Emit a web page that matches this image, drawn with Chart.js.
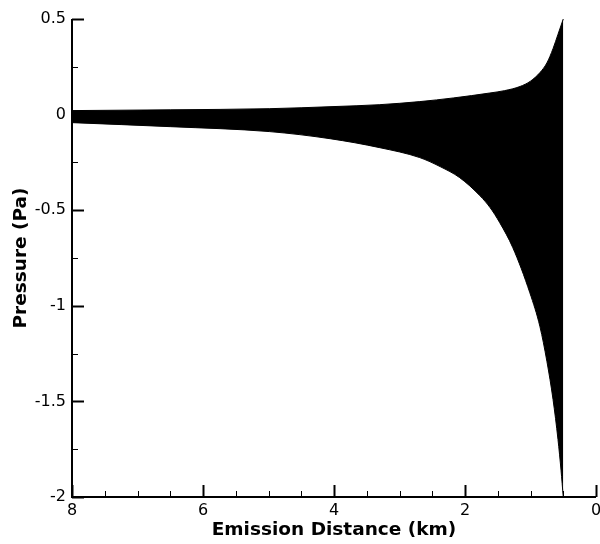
<!DOCTYPE html>
<html lang="en">
<head>
  <meta charset="UTF-8">
  <title>Pressure vs Emission Distance</title>
  <style>
    body {
      margin: 0;
      padding: 0;
      background-color: #fff;
    }
    #pressure-chart {
      display: block;
    }
  </style>
</head>
<body>
  <canvas id="pressure-chart" width="600" height="544"></canvas>

  <script src="https://cdn.jsdelivr.net/npm/chart.js"></script>
  <script>
    // Envelope of the pressure signal (Pa) against emission distance (km)
    const upperDistance = [8, 6.5, 4.98, 4, 3.3, 2.69, 2.18, 1.62, 1.4, 1.16, 1.0, 0.855, 0.75, 0.656, 0.58, 0.5];
    const upperPressure = [0.021, 0.025, 0.031, 0.042, 0.052, 0.068, 0.087, 0.113, 0.125, 0.147, 0.175, 0.22, 0.27, 0.345, 0.42, 0.5];

    const lowerDistance = [8, 6.5, 4.98, 4.06, 3.3, 2.69, 2.38, 2.08, 1.77, 1.62, 1.47, 1.27, 1.01, 0.855, 0.75, 0.656, 0.58, 0.534, 0.5];
    const lowerPressure = [-0.042, -0.063, -0.089, -0.126, -0.173, -0.225, -0.272, -0.33, -0.425, -0.485, -0.565, -0.696, -0.932, -1.11, -1.29, -1.49, -1.7, -1.86, -2];

    // Labelled (major) ticks; minor ticks fall in between
    const xTicks = [0, 2, 4, 6, 8];
    const yTicks = [-2, -1.5, -1, -0.5, 0, 0.5];

    const upperPoints = upperDistance.map((d, i) => ({ x: d, y: upperPressure[i] }));
    const lowerPoints = lowerDistance.map((d, i) => ({ x: d, y: lowerPressure[i] }));

    // Axis lines plus inward-pointing tick marks
    const innerTicks = {
      id: 'innerTicks',
      afterDatasetsDraw(chart) {
        const { ctx, chartArea: area, scales: { x, y } } = chart;
        ctx.save();
        ctx.strokeStyle = '#000';

        x.ticks.forEach(t => {
          const px = Math.round(x.getPixelForValue(t.value)) + 0.5;
          const major = xTicks.includes(t.value);
          ctx.lineWidth = major ? 2 : 1;
          ctx.beginPath();
          ctx.moveTo(px, area.bottom);
          ctx.lineTo(px, area.bottom - (major ? 12 : 6));
          ctx.stroke();
        });

        y.ticks.forEach(t => {
          const py = Math.round(y.getPixelForValue(t.value)) + 0.5;
          const major = yTicks.includes(t.value);
          ctx.lineWidth = major ? 2 : 1;
          ctx.beginPath();
          ctx.moveTo(area.left, py);
          ctx.lineTo(area.left + (major ? 12 : 6), py);
          ctx.stroke();
        });

        ctx.lineWidth = 2;
        ctx.beginPath();
        ctx.moveTo(area.left, area.top);
        ctx.lineTo(area.left, area.bottom);
        ctx.lineTo(area.right, area.bottom);
        ctx.stroke();
        ctx.restore();
      }
    };

    const ctx = document.getElementById('pressure-chart').getContext('2d');
    const chart = new Chart(ctx, {
      type: 'line',
      data: {
        datasets: [
          {
            label: 'Upper',
            data: upperPoints,
            borderColor: '#000',
            borderWidth: 1,
            pointRadius: 0,
            cubicInterpolationMode: 'monotone',
            fill: false
          },
          {
            label: 'Lower',
            data: lowerPoints,
            borderColor: '#000',
            backgroundColor: '#000',
            borderWidth: 1,
            pointRadius: 0,
            cubicInterpolationMode: 'monotone',
            fill: '-1'
          }
        ]
      },
      options: {
        responsive: false,
        animation: false,
        layout: {
          padding: { top: 19, right: 4, left: 0, bottom: 0 }
        },
        plugins: {
          legend: { display: false },
          tooltip: { enabled: false }
        },
        scales: {
          x: {
            type: 'linear',
            reverse: true,
            min: 0,
            max: 8,
            grid: { display: false, drawTicks: false },
            border: { display: false },
            ticks: {
              stepSize: 0.5,
              autoSkip: false,
              maxRotation: 0,
              padding: 4,
              color: '#000',
              font: { family: 'DejaVu Sans', size: 16 },
              callback: value => xTicks.includes(value) ? String(value) : ''
            },
            title: {
              display: true,
              text: 'Emission Distance (km)',
              color: '#000',
              font: { family: 'DejaVu Sans', size: 18.5, weight: 'bold' },
              padding: { top: 0, bottom: 3 }
            },
            afterFit: scale => {
              scale.height = 47;
              scale.paddingLeft = 0;
              scale.paddingRight = 0;
            }
          },
          y: {
            min: -2,
            max: 0.5,
            grid: { display: false, drawTicks: false },
            border: { display: false },
            ticks: {
              stepSize: 0.25,
              autoSkip: false,
              padding: 6,
              color: '#000',
              font: { family: 'DejaVu Sans', size: 16 },
              callback: value => yTicks.includes(value) ? String(value) : ''
            },
            title: {
              display: true,
              text: 'Pressure (Pa)',
              color: '#000',
              font: { family: 'DejaVu Sans', size: 18.5, weight: 'bold' },
              padding: { top: 10, bottom: 0 }
            },
            afterFit: scale => { scale.width = 72; }
          }
        }
      },
      plugins: [innerTicks]
    });
  </script>
</body>
</html>
